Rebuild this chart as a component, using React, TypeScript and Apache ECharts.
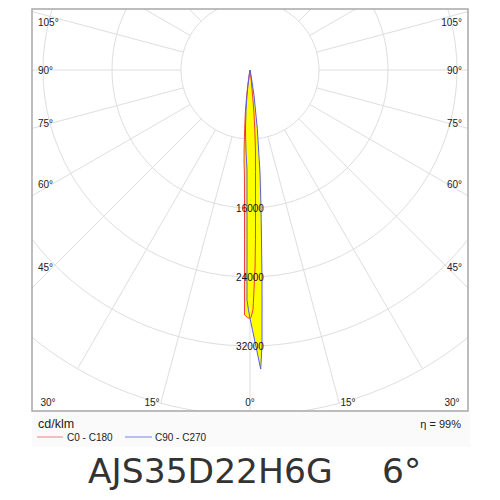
import React, { useEffect, useRef } from "react";
import * as echarts from "echarts";

// ---- data (angles in degrees, + = right side; intensities in cd/klm) ----
const RED_ANGLES = [-90, -9.5, -8.5, -7.4, -6.3, -5.2, -4.4, -3.7, -3.0, -2.3, -1.85, -1.54, -1.29, -0.6, 0, 0.23, 0.72, 1.45, 1.85, 2.3, 3.1, 3.9, 4.6, 5.2, 5.7, 6.5, 7.5, 90];
const RED_VALUES = [0, 500, 1500, 2950, 4900, 6830, 8800, 10700, 12300, 15900, 19700, 23800, 28400, 28700, 28800, 28700, 27800, 23000, 19700, 15900, 11800, 9300, 7000, 5000, 3300, 1500, 400, 0];

const BLUE_ANGLES = [-90, -9, -7.5, -6.8, -5.7, -4.4, -2.9, -1.72, -1.25, -1.0, -0.84, -0.75, -0.36, 0, 2.05, 2.5, 3.0, 3.33, 3.87, 4.59, 5.6, 5.8, 7.1, 9.0, 10.5, 90];
const BLUE_VALUES = [0, 500, 1800, 2920, 4660, 6860, 9300, 11600, 15900, 19700, 23800, 26700, 27800, 28800, 34700, 31900, 26700, 23900, 19750, 15930, 11880, 10720, 6860, 2970, 800, 0];

const RADIUS_LABELS = [16000, 24000, 32000];
const SIDE_ANGLE_LABELS = ["105°", "90°", "75°", "60°", "45°"];
const BOTTOM_ANGLE_LABELS = ["30°", "15°", "0°", "15°", "30°"];
const LEGEND_NAMES = ["C0 - C180", "C90 - C270"];
const UNIT_LABEL = "cd/klm";
const EFFICIENCY_LABEL = "η = 99%";
const TITLE = "AJS35D22H6G";
const BEAM_LABEL = "6°";

// ---- layout ----
const CX = 250;
const CY = 70;
const R_OUT = 345;
const R_MAX = 40000;
const R_STEP = 8000;
const BOX = { x: 32, y: 9, w: 436, h: 402 };
const SIDE_LABEL_Y = [22, 70, 123, 184, 267];
const BOTTOM_LABEL_X = [48, 152, 250, 348, 452];
const BOTTOM_LABEL_Y = 402;
const SMALL_FONT = "Liberation Sans";

const toAxis = (a: number) => (a < 0 ? a + 360 : a);

export default function App() {
  const ref = useRef<HTMLDivElement>(null);

  useEffect(() => {
    if (!ref.current) return;
    const chart = echarts.init(ref.current, undefined, { renderer: "svg" });

    const redData = RED_ANGLES.map((a, i) => [RED_VALUES[i], toAxis(a)]);
    const blueData = BLUE_ANGLES.map((a, i) => [BLUE_VALUES[i], toAxis(a)]);

    const txt = (text: string, x: number, y: number, opts: any = {}) => ({
      type: "text",
      x,
      y,
      z: 110,
      style: {
        text,
        fill: opts.fill || "#222",
        fontSize: opts.fontSize || 10,
        fontFamily: opts.fontFamily || SMALL_FONT,
        align: opts.align || "left",
        textAlign: opts.align || "left",
        verticalAlign: "middle",
        textVerticalAlign: "middle",
      },
    });

    const graphics: any[] = [
      // masks outside plot box
      { type: "rect", z: 100, shape: { x: 0, y: 0, width: 500, height: BOX.y }, style: { fill: "#fff" } },
      { type: "rect", z: 100, shape: { x: 0, y: 0, width: BOX.x, height: 500 }, style: { fill: "#fff" } },
      { type: "rect", z: 100, shape: { x: BOX.x + BOX.w, y: 0, width: 500 - BOX.x - BOX.w, height: 500 }, style: { fill: "#fff" } },
      { type: "rect", z: 100, shape: { x: 0, y: BOX.y + BOX.h, width: 500, height: 500 - BOX.y - BOX.h }, style: { fill: "#fff" } },
      // legend area
      { type: "rect", z: 101, shape: { x: BOX.x, y: BOX.y + BOX.h, width: BOX.w + 2, height: 36 }, style: { fill: "#fafafa" } },
      // box
      { type: "rect", z: 102, shape: { x: BOX.x, y: BOX.y, width: BOX.w, height: BOX.h }, style: { fill: "none", stroke: "#a8a8a8", lineWidth: 1.5 } },
    ];

    SIDE_ANGLE_LABELS.forEach((l, i) => {
      graphics.push(txt(l, 38, SIDE_LABEL_Y[i]));
      graphics.push(txt(l, 462, SIDE_LABEL_Y[i], { align: "right" }));
    });
    BOTTOM_ANGLE_LABELS.forEach((l, i) => {
      graphics.push(txt(l, BOTTOM_LABEL_X[i], BOTTOM_LABEL_Y, { align: "center" }));
    });

    graphics.push(txt(UNIT_LABEL, 38, 424, { fontSize: 12.5 }));
    graphics.push(txt(EFFICIENCY_LABEL, 461, 424, { fontSize: 11, align: "right" }));
    graphics.push({ type: "line", z: 110, shape: { x1: 37, y1: 437, x2: 63, y2: 437 }, style: { stroke: "#f48080", lineWidth: 1 } });
    graphics.push(txt(LEGEND_NAMES[0], 67, 437, { fontSize: 10 }));
    graphics.push({ type: "line", z: 110, shape: { x1: 125, y1: 437, x2: 152, y2: 437 }, style: { stroke: "#8080f0", lineWidth: 1 } });
    graphics.push(txt(LEGEND_NAMES[1], 155, 437, { fontSize: 10 }));
    graphics.push(txt(TITLE, 88, 471, { fontSize: 34.5, fontFamily: "DejaVu Sans", fill: "#333" }));
    graphics.push(txt(BEAM_LABEL, 382, 471, { fontSize: 34.5, fontFamily: "DejaVu Sans", fill: "#333" }));

    const angleAxisBase = {
      type: "value",
      min: 0,
      max: 360,
      interval: 15,
      startAngle: -90,
      clockwise: false,
      axisLine: { show: false },
      axisTick: { show: false },
      axisLabel: { show: false },
    };

    chart.setOption({
      animation: false,
      backgroundColor: "#fff",
      polar: [
        { center: [CX, CY], radius: R_OUT },
        { center: [CX, CY], radius: [(R_OUT * R_STEP) / R_MAX, R_OUT] },
      ],
      angleAxis: [
        { ...angleAxisBase, polarIndex: 0, splitLine: { show: false } },
        { ...angleAxisBase, polarIndex: 1, z: 0, splitLine: { show: true, lineStyle: { color: "#dedede", width: 1 } } },
      ],
      radiusAxis: [
        {
          polarIndex: 0,
          type: "value",
          min: 0,
          max: R_MAX,
          interval: R_STEP,
          z: 0,
          axisLine: { show: false },
          axisTick: { show: false },
          axisLabel: { show: false },
          splitLine: { show: true, lineStyle: { color: "#dedede", width: 1 } },
        },
        {
          polarIndex: 1,
          type: "value",
          min: R_STEP,
          max: R_MAX,
          interval: R_STEP,
          z: 20,
          axisLine: { show: false },
          axisTick: { show: false },
          splitLine: { show: false },
          axisLabel: {
            show: true,
            margin: 0,
            align: "center",
            verticalAlign: "middle",
            fontSize: 10,
            fontFamily: SMALL_FONT,
            color: "#111",
            formatter: (v: number) => (RADIUS_LABELS.includes(v) ? String(v) : ""),
          },
        },
      ],
      series: [
        {
          type: "custom",
          coordinateSystem: "polar",
          polarIndex: 0,
          z: 2,
          silent: true,
          data: [[0, 0]],
          renderItem: (_params: any, api: any) => {
            const poly = (angles: number[], values: number[]) =>
              angles.map((a, i) => api.coord([values[i], toAxis(a)]));
            return {
              type: "group",
              children: [
                { type: "polygon", shape: { points: poly(RED_ANGLES, RED_VALUES) }, style: { fill: "#ffff00", stroke: "none" } },
                { type: "polygon", shape: { points: poly(BLUE_ANGLES, BLUE_VALUES) }, style: { fill: "#ffff00", stroke: "none" } },
              ],
            };
          },
        },
        {
          name: LEGEND_NAMES[0],
          type: "line",
          coordinateSystem: "polar",
          polarIndex: 0,
          z: 3,
          symbol: "none",
          data: redData,
          lineStyle: { color: "#f03c3c", width: 1 },
        },
        {
          name: LEGEND_NAMES[1],
          type: "line",
          coordinateSystem: "polar",
          polarIndex: 0,
          z: 3,
          symbol: "none",
          data: blueData,
          lineStyle: { color: "#5a5af0", width: 1 },
        },
      ],
      graphic: graphics,
    });

    return () => chart.dispose();
  }, []);

  return <div ref={ref} style={{ position: "absolute", left: 0, top: 0, width: 500, height: 500 }} />;
}
